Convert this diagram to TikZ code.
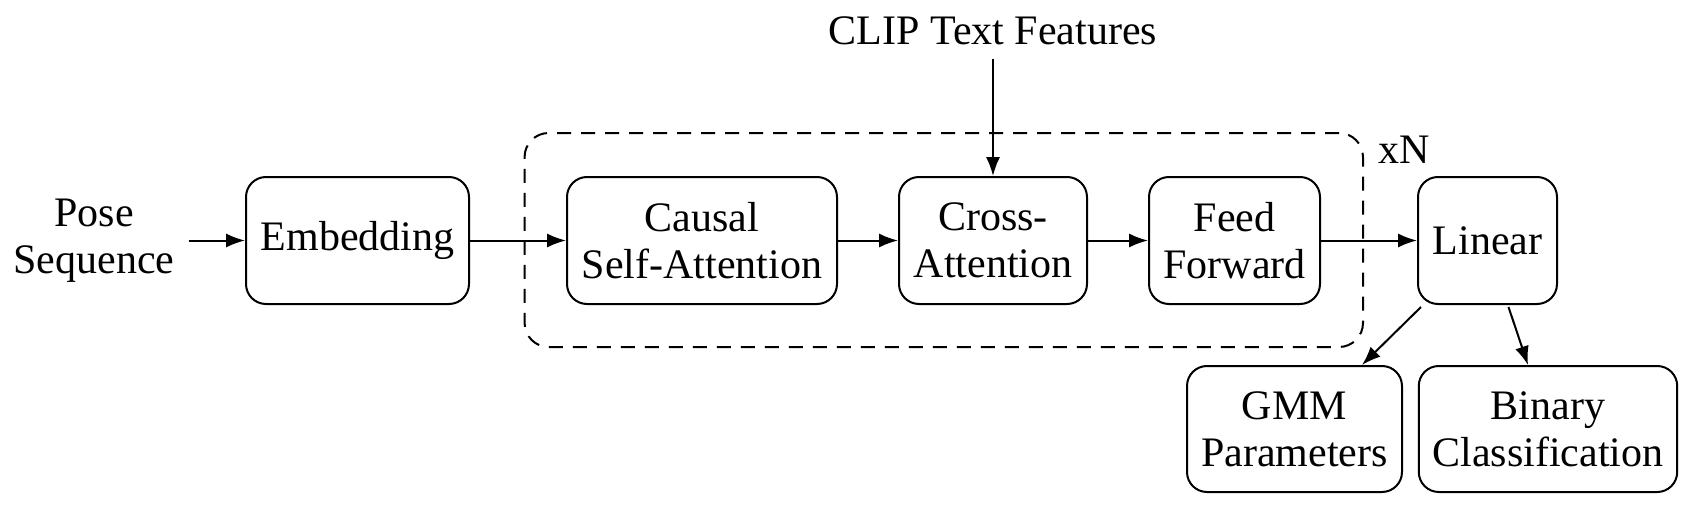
\documentclass[tikz,border=0pt]{standalone}
\usepackage{fontspec}
\setmainfont{Liberation Serif}
\usetikzlibrary{arrows.meta,calc}
\begin{document}
\begin{tikzpicture}[x=0.25pt,y=-0.25pt,
  every node/.style={font=\fontsize{10.5pt}{11.75pt}\selectfont},
  blk/.style={draw,line width=0.5pt,rounded corners=5pt,align=center,inner sep=0pt},
  arr/.style={-{Latex[length=4.7pt,width=3.5pt]},line width=0.5pt},
  rep/.style={draw,line width=0.5pt,dash pattern=on 3.5pt off 2.5pt,rounded corners=6pt,inner sep=0pt}]
\useasboundingbox (0,0) rectangle (1696,514);
% repeated block
\node[rep,minimum width=209.6pt,minimum height=53.5pt] (repbox) at (943.8,240) {};
\node at (1404,150) (xn) {xN};
% nodes
\node[align=center] (pose) at (94,240.5) {Pose\\Sequence};
\node[blk,minimum width=55.75pt,minimum height=31.75pt] (emb) at (357.5,240.5) {Embedding};
\node[blk,minimum width=67.5pt,minimum height=31.75pt] (csa) at (702,240.5) {Causal\\Self-Attention};
\node[blk,minimum width=47pt,minimum height=31.75pt] (cross) at (993,240.5) {Cross-\\Attention};
\node[blk,minimum width=42.75pt,minimum height=31.75pt] (ff) at (1234.5,240.5) {Feed\\Forward};
\node[blk,minimum width=34.75pt,minimum height=31.75pt] (lin) at (1487.5,240.5) {Linear};
\node[blk,minimum width=53.75pt,minimum height=31.5pt] (gmm) at (1294.5,429) {GMM\\Parameters};
\node[blk,minimum width=64.6pt,minimum height=31.5pt] (bin) at (1548,429) {Binary\\Classification};
\node (clip) at (993,31) {CLIP Text Features};
% connectors
\draw[arr] (pose.east) -- (emb.west);
\draw[arr] (emb.east) -- (csa.west);
\draw[arr] (csa.east) -- (cross.west);
\draw[arr] (cross.east) -- (ff.west);
\draw[arr] (ff.east) -- (lin.west);
\draw[arr] (clip.south) -- (cross.north);
\draw[arr] ($(lin.south west)+(4,2)$) -- ($(gmm.north)+(67.5,0)$);
\draw[arr] ($(lin.south)+(21,2)$) -- ($(bin.north)+(-20,0)$);
\end{tikzpicture}
\end{document}
